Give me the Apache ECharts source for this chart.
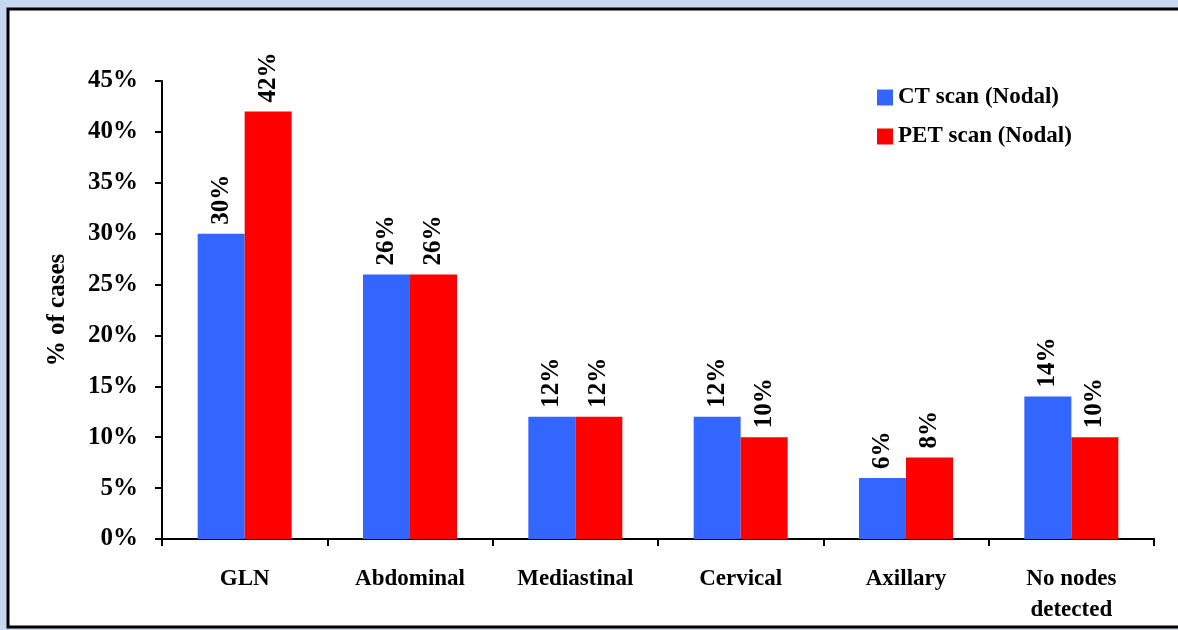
<!DOCTYPE html>
<html>
<head>
<meta charset="utf-8">
<script src="https://cdn.jsdelivr.net/npm/echarts@6/dist/echarts.min.js"></script>
<style>
  html, body { margin: 0; padding: 0; background: #C6D9F0; }
  #chart { width: 1178px; height: 630px; }
</style>
</head>
<body>
<div id="chart"></div>
<script>
// Lymph node sites detected by each imaging modality
const categories = ['GLN', 'Abdominal', 'Mediastinal', 'Cervical', 'Axillary', 'No nodes\ndetected'];
const ctValues = [30, 26, 12, 12, 6, 14];
const petValues = [42, 26, 12, 10, 8, 10];
const seriesNames = ['CT scan (Nodal)', 'PET scan (Nodal)'];
const yTicks = { min: 0, max: 45, interval: 5 };

const FONT = '"Liberation Serif", "Times New Roman", serif';
const chart = echarts.init(document.getElementById('chart'));

const labelStyle = {
  show: true,
  position: 'top',
  rotate: 90,
  align: 'left',
  verticalAlign: 'middle',
  distance: 9,
  formatter: '{c}%',
  fontFamily: FONT,
  fontWeight: 'bold',
  fontSize: 25,
  color: '#000'
};

chart.setOption({
  backgroundColor: '#C6D9F0',
  animation: false,
  graphic: [{
    type: 'rect',
    z: -10,
    shape: { x: 8, y: 9, width: 1180, height: 618 },
    style: { fill: '#ffffff', stroke: '#000000', lineWidth: 3 }
  }],
  legend: {
    orient: 'vertical',
    left: 872,
    top: 81,
    itemWidth: 16,
    itemHeight: 16,
    itemGap: 16,
    icon: 'rect',
    textStyle: { fontFamily: FONT, fontWeight: 'bold', fontSize: 23, color: '#000' },
    data: seriesNames
  },
  grid: { left: 162, right: 24, top: 81, bottom: 91, containLabel: false },
  xAxis: {
    type: 'category',
    data: categories,
    axisLine: { lineStyle: { color: '#000', width: 2 } },
    axisTick: { show: true, alignWithLabel: false, length: 7, lineStyle: { color: '#000', width: 2 } },
    axisLabel: {
      margin: 25,
      fontFamily: FONT,
      fontWeight: 'bold',
      fontSize: 23,
      lineHeight: 31,
      color: '#000',
      interval: 0
    }
  },
  yAxis: {
    type: 'value',
    min: yTicks.min,
    max: yTicks.max,
    interval: yTicks.interval,
    name: '% of cases',
    nameLocation: 'middle',
    nameRotate: 90,
    nameGap: 92,
    nameTextStyle: { fontFamily: FONT, fontWeight: 'bold', fontSize: 25, color: '#000' },
    axisLine: { show: true, lineStyle: { color: '#000', width: 2 } },
    axisTick: { show: true, length: 7, lineStyle: { color: '#000', width: 2 } },
    splitLine: { show: false },
    axisLabel: {
      margin: 24,
      formatter: '{value}%',
      fontFamily: FONT,
      fontWeight: 'bold',
      fontSize: 25,
      color: '#000'
    }
  },
  series: [
    {
      name: seriesNames[0],
      type: 'bar',
      data: ctValues,
      barWidth: 47,
      barGap: '0%',
      itemStyle: { color: '#3366FF' },
      label: labelStyle
    },
    {
      name: seriesNames[1],
      type: 'bar',
      data: petValues,
      barWidth: 47,
      barGap: '0%',
      itemStyle: { color: '#FF0000' },
      label: labelStyle
    }
  ]
});
</script>
</body>
</html>
